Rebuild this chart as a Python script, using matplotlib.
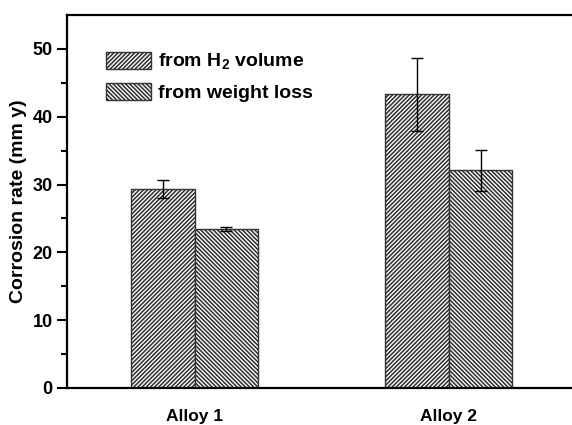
import numpy as np
import matplotlib
matplotlib.use('Agg')
import matplotlib.pyplot as plt

plt.rcParams['font.family'] = ['Liberation Sans', 'DejaVu Sans']
plt.rcParams['font.weight'] = 'bold'
plt.rcParams['mathtext.fontset'] = 'custom'
plt.rcParams['mathtext.rm'] = 'Liberation Sans:bold'
plt.rcParams['mathtext.bf'] = 'Liberation Sans:bold'
plt.rcParams['hatch.linewidth'] = 1.15
plt.rcParams['hatch.color'] = '#111111'

# data
alloys = ['Alloy 1', 'Alloy 2']
h2_rate = [29.3, 43.3]
h2_err = [1.35, 5.4]
wl_rate = [23.4, 32.1]
wl_err = [0.3, 3.05]

fig = plt.figure(figsize=(5.72, 4.25), dpi=100)
ax = fig.add_axes([67.4 / 572, 37 / 425, (576 - 67.4) / 572, 373 / 425])

x = np.arange(1, len(alloys) + 1)
w = 0.25
ax.bar(x - w / 2, h2_rate, w, yerr=h2_err, color='white', edgecolor='#333333',
       linewidth=1.0, hatch='/' * 8, capsize=4.5,
       error_kw=dict(elinewidth=1.0, capthick=1.0, ecolor='black'),
       label='from H$_{2}$ volume')
ax.bar(x + w / 2, wl_rate, w, yerr=wl_err, color='white', edgecolor='#333333',
       linewidth=1.0, hatch='\\' * 8, capsize=4.5,
       error_kw=dict(elinewidth=1.0, capthick=1.0, ecolor='black'),
       label='from weight loss')

ax.set_xlim(0.5, 2.5)
ax.set_ylim(0, 55)
ax.set_xticks(x)
ax.set_xticklabels(alloys, fontsize=12.5, fontweight='bold')
ax.set_yticks([0, 10, 20, 30, 40, 50])
ax.set_yticks(np.arange(5, 55, 10), minor=True)
ax.tick_params(axis='y', which='major', length=7.5, width=1.5, direction='out',
               labelsize=13, pad=3)
ax.tick_params(axis='y', which='minor', length=4, width=1.5, direction='out')
ax.tick_params(axis='x', length=0, pad=15)
for lab in ax.get_yticklabels():
    lab.set_fontweight('bold')

for s in ['left', 'top', 'bottom']:
    ax.spines[s].set_linewidth(1.6)
ax.spines['right'].set_visible(False)

ax.set_ylabel('Corrosion rate (mm y)', fontsize=14, fontweight='bold', labelpad=4)

ax.legend(loc='upper left', bbox_to_anchor=(39 / 508.6, 0.901), frameon=False,
          fontsize=14, handlelength=2.3, handleheight=0.95, handletextpad=0.35,
          labelspacing=0.55, borderpad=0, borderaxespad=0)

fig.savefig('out.png', dpi=100)
